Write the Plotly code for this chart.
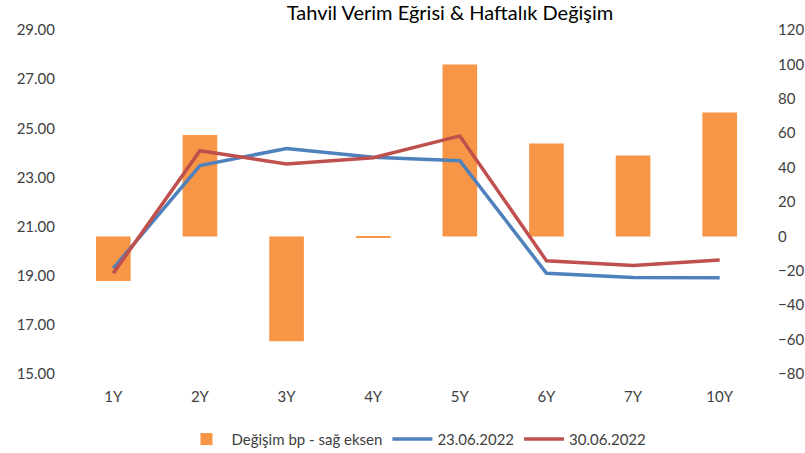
import plotly.graph_objects as go

categories = ["1Y", "2Y", "3Y", "4Y", "5Y", "6Y", "7Y", "10Y"]
change_bp = [-26, 59, -61, -1, 100, 54, 47, 72]
yield_2306 = [19.30, 23.48, 24.18, 23.82, 23.68, 19.10, 18.93, 18.92]
yield_3006 = [19.10, 24.09, 23.55, 23.80, 24.69, 19.61, 19.42, 19.64]

FONT = "Lato, Open Sans, sans-serif"

fig = go.Figure()
fig.add_trace(go.Bar(
    x=categories, y=change_bp, name="Değişim bp - sağ eksen",
    marker=dict(color="#F79646", line=dict(width=0)), width=0.4, yaxis="y",
))
fig.add_trace(go.Scatter(
    x=categories, y=yield_2306, name="23.06.2022", mode="lines", yaxis="y2",
    line=dict(color="#4F81BD", width=3.5),
))
fig.add_trace(go.Scatter(
    x=categories, y=yield_3006, name="30.06.2022", mode="lines", yaxis="y2",
    line=dict(color="#C0504D", width=3.5),
))

fig.update_layout(
    width=805, height=453,
    margin=dict(l=70, r=42, t=30, b=79, autoexpand=False),
    paper_bgcolor="white", plot_bgcolor="white",
    font=dict(family=FONT, size=15, color="#404040"),
    title=dict(text="Tahvil Verim Eğrisi & Haftalık Değişim", x=450/805, xanchor="center",
               y=0.972, yanchor="middle", font=dict(size=20, color="#000000")),
    xaxis=dict(showgrid=False, showline=False, ticks="", ticklabelstandoff=12, automargin=False,
               tickfont=dict(size=15, color="#404040")),
    yaxis=dict(range=[-80, 120], tick0=-80, dtick=20, side="right", showgrid=False, automargin=False,
               showline=False, zeroline=False, ticks="", ticklabelstandoff=14,
               tickfont=dict(size=15, color="#404040")),
    yaxis2=dict(range=[15, 29], tick0=15, dtick=2, tickformat=".2f", overlaying="y", side="left",
                automargin=False, showgrid=False, showline=False, zeroline=False, ticks="",
                ticklabelstandoff=14),
    legend=dict(orientation="h", x=0.5, xanchor="center", y=-0.19, yanchor="middle",
                bgcolor="rgba(0,0,0,0)",
                font=dict(size=15, color="#404040"), itemwidth=40),
)

fig.write_html("out.html", config={"displayModeBar": False},
               post_script="document.body.style.margin='0';document.body.style.overflow='hidden';")
